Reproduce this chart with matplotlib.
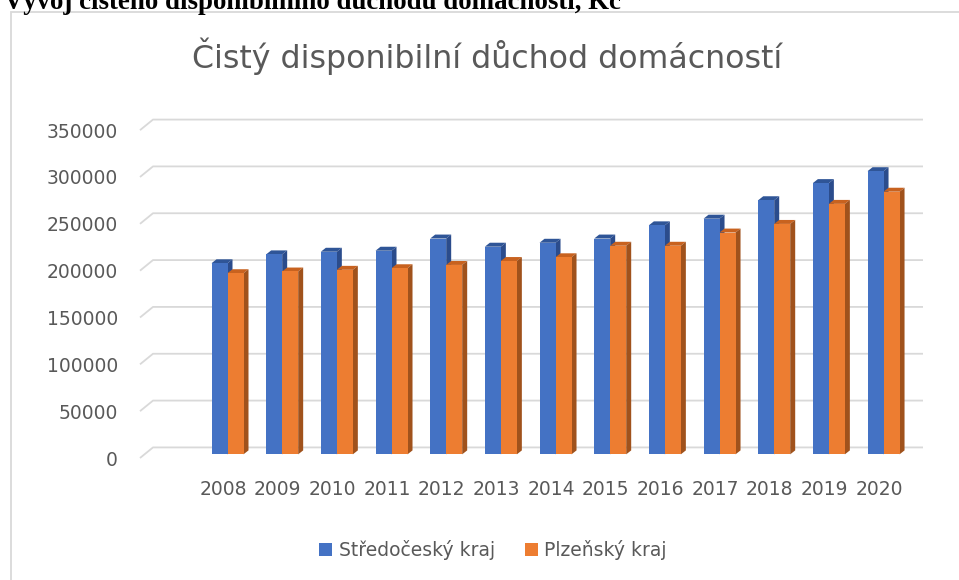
import matplotlib
matplotlib.use("Agg")
import matplotlib.pyplot as plt
from matplotlib.patches import Polygon, Rectangle, Patch

years = ["2008", "2009", "2010", "2011", "2012", "2013", "2014",
         "2015", "2016", "2017", "2018", "2019", "2020"]
stredocesky = [204000, 213500, 216300, 217400, 230400, 221700, 225900,
               230400, 244500, 251600, 271300, 289600, 302300]
plzensky = [193400, 195200, 197000, 198700, 202200, 206400, 210400,
            222700, 222700, 236800, 246000, 267400, 280400]
series_names = ["Středočeský kraj", "Plzeňský kraj"]
yticks = [0, 50000, 100000, 150000, 200000, 250000, 300000, 350000]

W, H, DPI = 959, 580, 100
fig = plt.figure(figsize=(W / DPI, H / DPI), dpi=DPI)
fig.patch.set_facecolor("white")

grey_txt = "#595959"
grid_col = "#D9D9D9"
blue, blue_dk, blue_top = "#4472C4", "#2B4C8C", "#2F5597"
orange, orange_dk, orange_top = "#ED7D31", "#A0521C", "#C8621F"

# header of the document, mostly cut off at the top
fig.text(4 / W, 1 - 9 / H, "Vývoj čistého disponibilního důchodu domácností, Kč",
         fontfamily="Liberation Serif", fontweight="bold", fontsize=19.4,
         color="black", va="baseline", ha="left")

# chart frame
fig.patches.append(Rectangle((10.7 / W, -0.5), 2, 1.5 - 12.3 / H,
                             transform=fig.transFigure, fill=False,
                             edgecolor=grid_col, lw=1.3))

# plot plane where the bar fronts sit (pixels from top-left)
x0, x1 = 144.5, 914.5
y0, y1 = 458.0, 126.5
ax = fig.add_axes([x0 / W, 1 - y0 / H, (x1 - x0) / W, (y0 - y1) / H])
ax.patch.set_visible(False)
for s in ax.spines.values():
    s.set_visible(False)

first_c = 227.5
step = 54.67
xmin = -(first_c - x0) / step
xmax = len(years) - 1 + (x1 - (first_c + step * (len(years) - 1))) / step
ax.set_xlim(xmin, xmax)
ax.set_ylim(0, 350000)

sx = (x1 - x0) / (xmax - xmin)      # px per x unit
sy = (y0 - y1) / 350000.0           # px per y unit

# gridlines on the back wall with the little floor diagonal
fdx, fdy = -4.5, -3.7   # front plane offset (px)
bdx, bdy = 8.5, 7.0     # back wall offset (px)
for v in yticks:
    xs = [xmin + fdx / sx, xmin + bdx / sx, xmax + bdx / sx]
    ys = [v + fdy / sy, v + bdy / sy, v + bdy / sy]
    ax.plot(xs, ys, color=grid_col, lw=1.3, zorder=1, clip_on=False,
            solid_capstyle="butt")

bw = 16.0 / sx
ddx, ddy = 5.0 / sx, 4.0 / sy


def bar3d(xc, h, front, top, side, z):
    left, right = xc - bw / 2, xc + bw / 2
    ax.bar(xc, h, width=bw, color=front, zorder=z + 1, linewidth=0)
    ax.add_patch(Polygon([(left, h), (right, h), (right + ddx, h + ddy),
                          (left + ddx, h + ddy)], closed=True,
                         facecolor=top, edgecolor="none", zorder=z))
    ax.add_patch(Polygon([(right, 0), (right, h), (right + ddx, h + ddy),
                          (right + ddx, ddy)], closed=True,
                         facecolor=side, edgecolor="none", zorder=z))


for i in range(len(years)):
    bar3d(i - bw / 2, stredocesky[i], blue, blue_top, blue_dk, 2)
    bar3d(i + bw / 2, plzensky[i], orange, orange_top, orange_dk, 4)

# tick labels sit on the front plane
ax.set_yticks([v + fdy / sy for v in yticks])
ax.set_yticklabels([str(v) for v in yticks])
ax.set_xticks([i + fdx / sx for i in range(len(years))])
ax.set_xticklabels(years)
ax.tick_params(length=0, labelsize=13.5, labelcolor=grey_txt)
ax.tick_params(axis="y", pad=19)
ax.tick_params(axis="x", pad=16)
for lab in ax.get_xticklabels() + ax.get_yticklabels():
    lab.set_fontfamily("DejaVu Sans")

fig.text(487.5 / W, 1 - 56 / H, "Čistý disponibilní důchod domácností",
         fontsize=22.8, color=grey_txt, ha="center", va="center")

handles = [Patch(facecolor=blue, edgecolor="none"),
           Patch(facecolor=orange, edgecolor="none")]
fig.legend(handles, series_names, loc="center",
           bbox_to_anchor=(493 / W, 1 - 550 / H), ncol=2, frameon=False,
           fontsize=13.5, labelcolor=grey_txt, handlelength=0.7,
           handleheight=0.7, handletextpad=0.35, columnspacing=1.6)

fig.savefig("out.png", dpi=DPI)
